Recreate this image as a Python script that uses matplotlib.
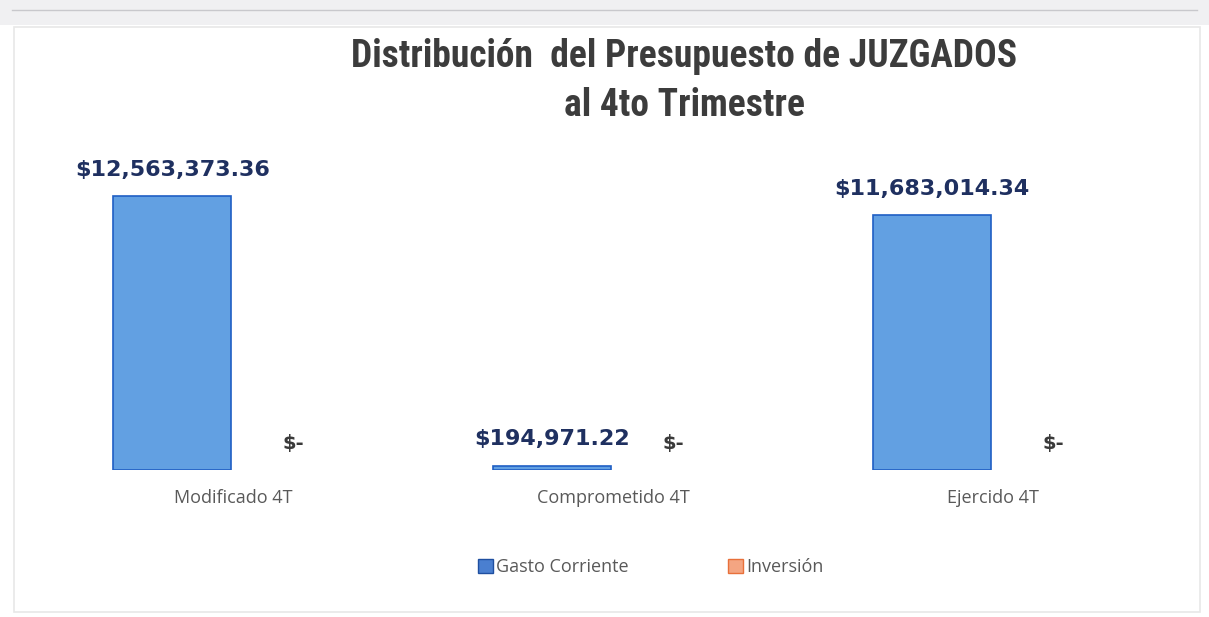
import numpy as np
import matplotlib.pyplot as plt
from matplotlib.patches import Rectangle, Patch

categories = ['Modificado 4T', 'Comprometido 4T', 'Ejercido 4T']
gasto_corriente = [12563373.36, 194971.22, 11683014.34]
inversion = [0, 0, 0]
series_names = ['Gasto Corriente', 'Inversión']
title = 'Distribución  del Presupuesto de JUZGADOS\nal 4to Trimestre'

def money(v):
    if v == 0:
        return '$-'
    return '${:,.2f}'.format(v)

fig = plt.figure(figsize=(12.09, 6.17), dpi=100)
fig.patch.set_facecolor('white')

# faint scan frame / top strip
fig.patches.append(Rectangle((14 / 1209, 5 / 617), 1186 / 1209, 585 / 617,
                             transform=fig.transFigure, fill=False,
                             edgecolor='#e8e8e8', lw=1.2))
fig.patches.append(Rectangle((0, 592 / 617), 1, 25 / 617, transform=fig.transFigure,
                             facecolor='#f0f0f2', edgecolor='none'))
fig.add_artist(plt.Line2D([0.01, 0.99], [607 / 617, 607 / 617], transform=fig.transFigure,
                          color='#c8c8cc', lw=1))

ax = fig.add_axes([43 / 1209, 147 / 617, 1140 / 1209, 305 / 617])
x = np.arange(len(categories))
w = 0.31
off = 0.16

b1 = ax.bar(x - off, gasto_corriente, w, color='#62a0e2', edgecolor='#1f5fc4', linewidth=1.2)
b2 = ax.bar(x + off, inversion, w, color='#f4a582', edgecolor='none', linewidth=0)

for rect, v in zip(b1, gasto_corriente):
    ax.annotate(money(v), (rect.get_x() + rect.get_width() / 2, v),
                xytext=(0, 12), textcoords='offset points', ha='center', va='bottom',
                fontsize=16, fontweight='bold', color='#1f3060')
for rect, v in zip(b2, inversion):
    ax.annotate(money(v), (rect.get_x() + rect.get_width() / 2, v),
                xytext=(0, 12), textcoords='offset points', ha='center', va='bottom',
                fontsize=14, fontweight='bold', color='#3a3a3a')

ax.set_xlim(-0.5, 2.5)
ax.set_ylim(0, 14e6)
ax.set_xticks(x)
ax.set_xticklabels(categories, fontsize=13, color='#595959', family=['Open Sans', 'DejaVu Sans'])
ax.tick_params(axis='x', length=0, pad=14)
ax.set_yticks([])
for s in ax.spines.values():
    s.set_visible(False)

fig.text(684 / 1209, 1 - 81 / 617, title, ha='center', va='center', fontsize=27,
         fontweight='bold', color='#3c3c3c', linespacing=1.38,
         family=['Roboto Condensed', 'Roboto', 'DejaVu Sans'])

handles = [Patch(facecolor='#4a7fd0', edgecolor='#1f4fa0'),
           Patch(facecolor='#f4a582', edgecolor='#e8703a')]
fig.legend(handles, series_names, loc='center', bbox_to_anchor=(651 / 1209, 1 - 567 / 617),
           ncol=2, frameon=False, handlelength=0.8, handleheight=0.8, handletextpad=0.2,
           columnspacing=5.5, prop={'size': 13, 'family': ['Open Sans', 'DejaVu Sans']},
           labelcolor='#595959')

fig.savefig('out.png', dpi=100)
